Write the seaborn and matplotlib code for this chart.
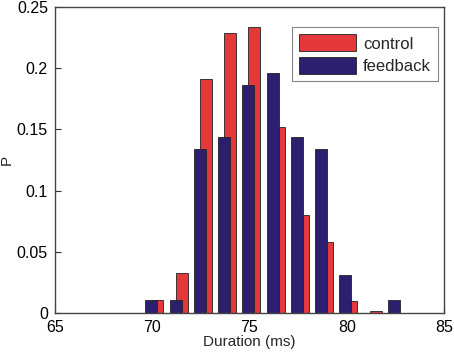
import numpy as np
import pandas as pd
import matplotlib
matplotlib.use("Agg")
import matplotlib.pyplot as plt
import seaborn as sns

# Bin centres (ms)
bin_centers = [69.95, 71.20, 72.44, 73.69, 74.94, 76.19, 77.43, 78.68, 79.93, 81.18, 82.42]
control = [0.011, 0.033, 0.191, 0.229, 0.234, 0.152, 0.080, 0.058, 0.0096, 0.002, 0.0]
feedback = [0.0103, 0.0103, 0.134, 0.144, 0.186, 0.196, 0.144, 0.134, 0.031, 0.0, 0.0103]
series_names = ["control", "feedback"]
red_offset = 0.31  # control bars shifted right of feedback bars

xticks = [65, 70, 75, 80, 85]
yticks = [0, 0.05, 0.1, 0.15, 0.2, 0.25]
ytick_labels = ["0", "0.05", "0.1", "0.15", "0.2", "0.25"]

RED = "#E5383A"
NAVY = "#2C1F70"

sns.set_style("white")
plt.rcParams["font.family"] = ["Liberation Sans", "DejaVu Sans"]
plt.rcParams["font.size"] = 11

fig = plt.figure(figsize=(4.54, 3.53), dpi=100)
ax = fig.add_axes([0.121, 0.1133, 0.857, 0.867])

df_c = pd.DataFrame({"x": np.array(bin_centers) + red_offset, "P": control})
df_f = pd.DataFrame({"x": bin_centers, "P": feedback})

sns.barplot(data=df_c, x="x", y="P", native_scale=True, width=0.5,
            color=RED, saturation=1, edgecolor="#222222", linewidth=0.6,
            errorbar=None, ax=ax, label=series_names[0])
sns.barplot(data=df_f, x="x", y="P", native_scale=True, width=0.5,
            color=NAVY, saturation=1, edgecolor="#222222", linewidth=0.6,
            errorbar=None, ax=ax, label=series_names[1])

ax.set_xlim(65, 85)
ax.set_ylim(0, 0.25)
ax.set_xticks(xticks)
ax.set_xticklabels([str(t) for t in xticks])
ax.set_yticks(yticks)
ax.set_yticklabels(ytick_labels)
ax.tick_params(direction="in", length=4, width=0.8, colors="#333333",
               labelcolor="black", labelsize=11.5, pad=5,
               left=True, bottom=True)
for s in ax.spines.values():
    s.set_visible(True)
    s.set_color("#444444")
    s.set_linewidth(1.0)

ax.set_xlabel("Duration (ms)", fontsize=11, labelpad=0)
ax.set_ylabel("P", fontsize=11, labelpad=2)

leg = ax.legend(loc="upper right", bbox_to_anchor=(0.985, 0.935),
                fancybox=False, frameon=True, edgecolor="#666666",
                fontsize=12, handlelength=3.4, handleheight=1.2,
                handletextpad=0.4, borderpad=0.45, labelspacing=0.3,
                borderaxespad=0)
leg.get_frame().set_linewidth(0.8)

fig.savefig("out.png", dpi=100, facecolor="white")
